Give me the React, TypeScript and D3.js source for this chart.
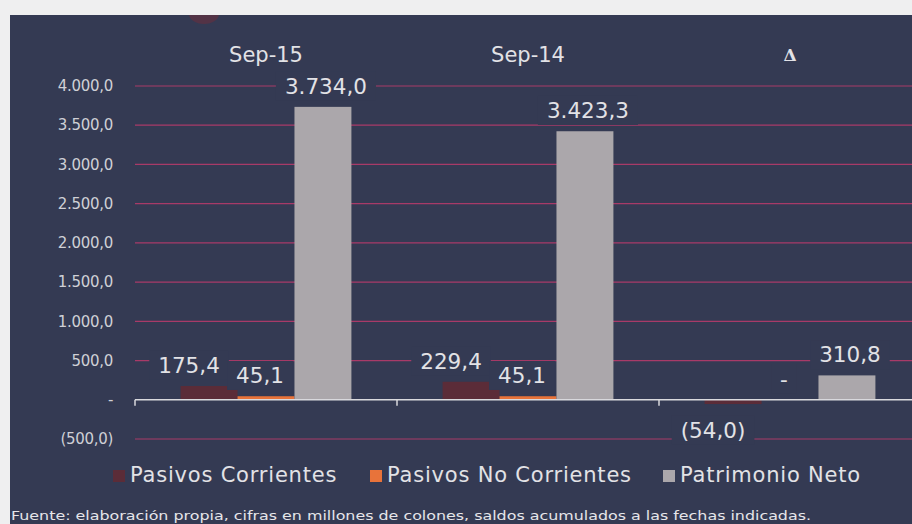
import React, { useEffect, useRef } from "react";
import * as d3 from "d3";

const categories = ["Sep-15", "Sep-14", "Δ"];
const seriesNames = ["Pasivos Corrientes", "Pasivos No Corrientes", "Patrimonio Neto"];
const pasivosCorrientes = [175.4, 229.4, -54.0];
const pasivosNoCorrientes = [45.1, 45.1, 0];
const patrimonioNeto = [3734.0, 3423.3, 310.8];
const yTicks = [-500, 0, 500, 1000, 1500, 2000, 2500, 3000, 3500, 4000];
const footnote = "Fuente: elaboración propia, cifras en millones de colones, saldos acumulados a las fechas indicadas.";

const W = 912;
const H = 524;
const PANEL = "#343a53";
const GRID = "#a83a68";
const COLORS = ["#5b2c38", "#e8733a", "#aba7ab"];
const TEXT = "#e2e2e6";
const FONT = "'DejaVu Sans', sans-serif";

function fmt(v: number): string {
  if (v === 0) return "-";
  const s = Math.abs(v).toFixed(1).replace(".", ",");
  const [intPart, dec] = s.split(",");
  const withSep = intPart.replace(/\B(?=(\d{3})+(?!\d))/g, ".");
  const out = withSep + "," + dec;
  return v < 0 ? "(" + out + ")" : out;
}

export default function App() {
  const ref = useRef<SVGSVGElement | null>(null);

  useEffect(() => {
    const svg = d3.select(ref.current);
    svg.selectAll("*").remove();

    svg.append("rect").attr("width", W).attr("height", H).attr("fill", "#efeff0");
    svg.append("rect").attr("x", 10).attr("y", 15).attr("width", W - 10).attr("height", H - 15).attr("fill", PANEL);

    const defs = svg.append("defs");
    defs.append("clipPath").attr("id", "panelclip").append("rect")
      .attr("x", 10).attr("y", 15).attr("width", W - 10).attr("height", H - 15);
    svg.append("g").attr("clip-path", "url(#panelclip)")
      .append("ellipse").attr("cx", 204).attr("cy", 14).attr("rx", 15).attr("ry", 10)
      .attr("fill", "#6e2e3c").attr("opacity", 0.55);

    const x0 = d3.scaleBand<string>().domain(categories).range([135, 921]).padding(0);
    const bw = x0.bandwidth();
    const x1 = d3.scaleBand<string>().domain(seriesNames).range([bw * 0.174, bw * 0.826]).padding(0);
    const y = d3.scaleLinear().domain([-500, 4000]).range([439, 86]);

    // gridlines
    const grid = svg.append("g");
    grid.selectAll("line").data(yTicks.filter((t) => t !== 0)).join("line")
      .attr("x1", 135).attr("x2", W).attr("y1", (d) => y(d)).attr("y2", (d) => y(d))
      .attr("stroke", GRID).attr("stroke-width", 1.2);

    // y tick labels
    svg.append("g").selectAll("text").data(yTicks).join("text")
      .attr("x", 113).attr("y", (d) => y(d)).attr("dy", "0.35em")
      .attr("text-anchor", "end").attr("fill", "#cfd0d6")
      .attr("font-family", FONT).attr("font-size", 15).attr("letter-spacing", -0.3)
      .text((d) => fmt(d));

    // category labels at top
    svg.append("g").selectAll("text").data(categories).join("text")
      .attr("x", (d) => (x0(d) as number) + bw / 2).attr("y", 55).attr("dy", "0.35em")
      .attr("text-anchor", "middle").attr("fill", TEXT)
      .attr("font-family", (d) => (d === "Δ" ? "'DejaVu Serif', serif" : FONT))
      .attr("font-weight", (d) => (d === "Δ" ? "bold" : "normal"))
      .attr("font-size", (d) => (d === "Δ" ? 17 : 21))
      .text((d) => d);

    const series = [pasivosCorrientes, pasivosNoCorrientes, patrimonioNeto];
    type Pt = { cat: string; s: number; v: number };
    const pts: Pt[] = [];
    categories.forEach((c, i) => series.forEach((arr, s) => pts.push({ cat: c, s, v: arr[i] })));

    // bars
    svg.append("g").selectAll("rect").data(pts).join("rect")
      .attr("x", (d) => (x0(d.cat) as number) + (x1(seriesNames[d.s]) as number))
      .attr("width", x1.bandwidth())
      .attr("y", (d) => Math.min(y(d.v), y(0)))
      .attr("height", (d) => Math.abs(y(d.v) - y(0)))
      .attr("fill", (d) => COLORS[d.s]);

    // axis line + ticks
    const ax = svg.append("g").attr("stroke", "#d9d9dd").attr("stroke-width", 1.5);
    ax.append("line").attr("x1", 135).attr("x2", W).attr("y1", y(0)).attr("y2", y(0));
    ax.selectAll("line.t").data(categories).join("line").attr("class", "t")
      .attr("x1", (d) => x0(d) as number).attr("x2", (d) => x0(d) as number)
      .attr("y1", y(0)).attr("y2", y(0) + 6);

    // data labels
    const labelDx = [-20, -6, 3];
    const lg = svg.append("g");
    pts.forEach((d) => {
      const cx = (x0(d.cat) as number) + (x1(seriesNames[d.s]) as number) + x1.bandwidth() / 2 + labelDx[d.s];
      const cy = d.v < 0 ? y(d.v) + 26 : y(d.v) - 21;
      const g = lg.append("g");
      const bg = g.append("rect").attr("fill", PANEL);
      const t = g.append("text").attr("x", cx).attr("y", cy).attr("dy", "0.36em")
        .attr("text-anchor", "middle").attr("fill", TEXT)
        .attr("font-family", FONT).attr("font-size", 21.5)
        .text(fmt(d.v));
      const bb = (t.node() as SVGTextElement).getBBox();
      bg.attr("x", bb.x - 9).attr("y", bb.y - 2).attr("width", bb.width + 18).attr("height", bb.height + 4);
    });

    // legend
    const legendX = [113, 370, 663];
    const leg = svg.append("g");
    seriesNames.forEach((n, i) => {
      leg.append("rect").attr("x", legendX[i]).attr("y", 470).attr("width", 12).attr("height", 12).attr("fill", COLORS[i]);
      leg.append("text").attr("x", legendX[i] + 17).attr("y", 482)
        .attr("fill", TEXT).attr("font-family", FONT).attr("font-size", 21).attr("letter-spacing", 0.8)
        .text(n);
    });

    // footnote
    svg.append("text").attr("x", 11).attr("y", 520)
      .attr("fill", "#e6e6ea").attr("font-family", FONT).attr("font-size", 12.5)
      .attr("textLength", 800).attr("lengthAdjust", "spacingAndGlyphs")
      .text(footnote);
  }, []);

  return (
    <svg ref={ref} width={W} height={H} style={{ position: "absolute", left: 0, top: 0, display: "block" }} />
  );
}
